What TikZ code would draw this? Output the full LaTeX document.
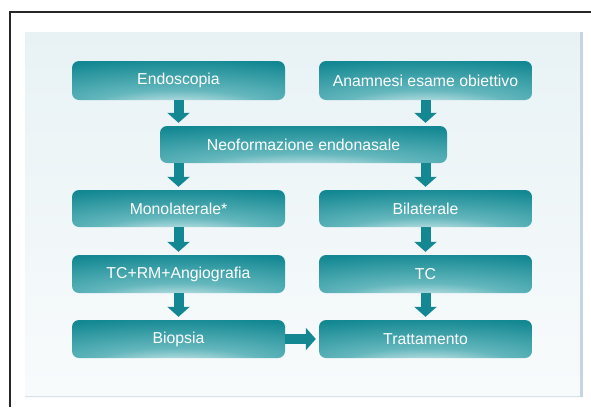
\documentclass[tikz,border=0pt]{standalone}
\usepackage{fontspec}
\setmainfont{Liberation Sans}
\usepackage{xcolor}
\definecolor{Teal}{HTML}{138892}
\definecolor{MidTeal}{HTML}{64B7BD}
\definecolor{Glow}{HTML}{EEF8F8}
\definecolor{Panel}{HTML}{E8F2F5}
\definecolor{PanelLow}{HTML}{F8FBFC}
\definecolor{PanelEdge}{HTML}{C6D5DF}
\usetikzlibrary{positioning,arrows.meta}
\pgfdeclareradialshading{glow}{\pgfpoint{0bp}{-38bp}}{color(0bp)=(Glow); color(20bp)=(MidTeal); color(50bp)=(Teal); color(120bp)=(Teal)}

\begin{document}
\begin{tikzpicture}[x=1pt,y=-1pt,
 box/.style={rounded corners=7pt,shading=glow,text=white,inner sep=0pt,
  minimum width=213pt,minimum height=39pt,font=\fontsize{15.8}{17}\selectfont},
 arr/.style={Teal,line width=10pt,shorten >=3pt,-{Triangle[width=22pt,length=10pt]}}]
\useasboundingbox (0,0) rectangle (591,407);
\draw[line width=1.5pt,black!85] (591,12)--(10,12)--(10,407);
\shade[top color=Panel,bottom color=PanelLow] (25,32) rectangle (583,397);
\fill[PanelEdge] (580,32) rectangle (583,397);
\draw[PanelEdge!70,line width=1pt] (25,396.5)--(580,396.5);
\node[box] (endo) at (178.5,80.5) {Endoscopia};
\node[box] (anam) at (425.5,80.5) {Anamnesi esame obiettivo};
\node[box,minimum width=287pt,minimum height=37pt] (neo) at (303.5,144.5) {Neoformazione endonasale};
\node[box,minimum height=37pt] (mono) at (178.5,208.5) {Monolaterale*};
\node[box,minimum height=37pt] (bil) at (425.5,208.5) {Bilaterale};
\node[box,minimum height=38pt] (tcrm) at (178.5,274) {TC+RM+Angiografia};
\node[box,minimum height=38pt] (tc) at (425.5,274) {TC};
\node[box,minimum height=38pt] (bio) at (178.5,339) {Biopsia};
\node[box,minimum height=38pt] (trat) at (425.5,339) {Trattamento};
\draw[arr] (endo.south)--(endo.south |- neo.north);
\draw[arr] (anam.south)--(anam.south |- neo.north);
\draw[arr] (mono.north |- neo.south)--(mono.north);
\draw[arr] (bil.north |- neo.south)--(bil.north);
\foreach \a/\b in {mono/tcrm,tcrm/bio,bil/tc,tc/trat}
 \draw[arr] (\a.south)--(\b.north);
\draw[arr] (bio.east)--(trat.west);
\end{tikzpicture}
\end{document}
